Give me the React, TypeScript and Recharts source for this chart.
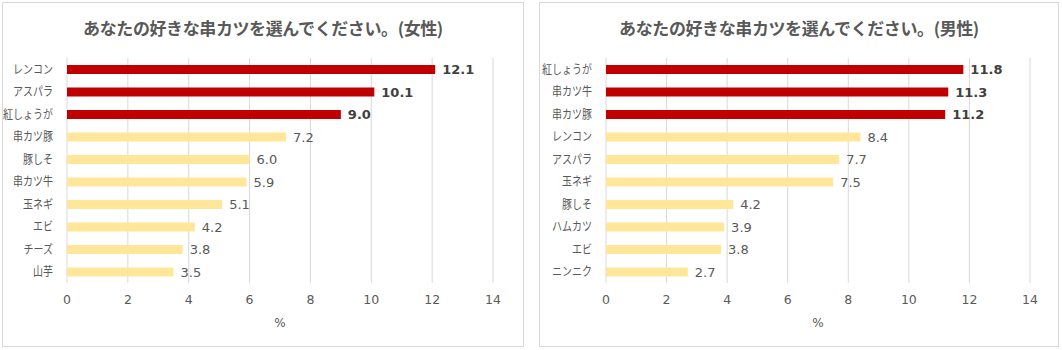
import React from "react";
import { BarChart, Bar, XAxis, YAxis, CartesianGrid, Cell, LabelList, Label } from "recharts";

const femaleCategories = ["レンコン", "アスパラ", "紅しょうが", "串カツ豚", "豚しそ", "串カツ牛", "玉ネギ", "エビ", "チーズ", "山芋"];
const femaleValues = [12.1, 10.1, 9.0, 7.2, 6.0, 5.9, 5.1, 4.2, 3.8, 3.5];
const maleCategories = ["紅しょうが", "串カツ牛", "串カツ豚", "レンコン", "アスパラ", "玉ネギ", "豚しそ", "ハムカツ", "エビ", "ニンニク"];
const maleValues = [11.8, 11.3, 11.2, 8.4, 7.7, 7.5, 4.2, 3.9, 3.8, 2.7];
const xTicks = [0, 2, 4, 6, 8, 10, 12, 14];
const femaleTitle = "あなたの好きな串カツを選んでください。(女性)";
const maleTitle = "あなたの好きな串カツを選んでください。(男性)";
const TOP_N = 3;

const FONT = "'DejaVu Sans', 'Noto Sans CJK JP', sans-serif";
const JP = "'Noto Sans CJK JP', sans-serif";
const RED = "#C00000";
const YELLOW = "#FFE699";
const GRAY = "#595959";

function makeRows(cats: string[], vals: number[]) {
  return cats.map((c, i) => ({ name: c, value: vals[i], top: i < TOP_N }));
}

const ValueLabel = (props: any) => {
  const { x, y, width, height, value, index } = props;
  const bold = index < TOP_N;
  return (
    <text
      x={x + width + 7}
      y={y + height / 2}
      dy="0.36em"
      fill={bold ? "#404040" : GRAY}
      fontSize={13}
      fontWeight={bold ? "bold" : "normal"}
      fontFamily={FONT}
    >
      {Number(value).toFixed(1)}
    </text>
  );
};

const CatTick = (props: any) => {
  const { x, y, payload } = props;
  return (
    <g transform={`translate(${x},${y}) scale(0.8,1)`}>
      <text x={0} y={0} dy="0.36em" textAnchor="end" fill={GRAY} fontSize={12.5} fontFamily={JP}>
        {payload.value}
      </text>
    </g>
  );
};

function Panel(props: { left: number; width: number; title: string; cats: string[]; vals: number[]; yWidth: number; rightMargin: number }) {
  const { left, width, title, cats, vals, yWidth, rightMargin } = props;
  const data = makeRows(cats, vals);
  return (
    <div
      style={{
        position: "absolute",
        left,
        top: 2,
        width,
        height: 345,
        border: "1px solid #D9D9D9",
        boxSizing: "border-box",
        background: "#fff",
      }}
    >
      <div
        style={{
          position: "absolute",
          left: 0,
          top: 13,
          width: "100%",
          textAlign: "center",
          fontFamily: JP,
          fontWeight: "bold",
          fontSize: 17,
          letterSpacing: "-0.4px",
          color: GRAY,
          lineHeight: "24px",
        }}
      >
        {title}
      </div>
      <div style={{ position: "absolute", left: -1, top: -1 }}>
        <BarChart
          width={width}
          height={345}
          data={data}
          layout="vertical"
          margin={{ top: 56, right: rightMargin, bottom: 16, left: 0 }}
          barCategoryGap={0}
        >
          <CartesianGrid horizontal={false} vertical={true} stroke="#D9D9D9" />
          <XAxis
            type="number"
            domain={[0, 14]}
            ticks={xTicks}
            axisLine={false}
            tickLine={false}
            tick={{ fill: GRAY, fontSize: 12.5, fontFamily: FONT }}
            tickMargin={6}
            height={48}
          >
            <Label value="%" position="insideBottom" offset={4} fill={GRAY} fontSize={12} fontFamily={FONT} />
          </XAxis>
          <YAxis
            type="category"
            dataKey="name"
            width={yWidth}
            axisLine={false}
            tickLine={false}
            tick={<CatTick />}
            tickMargin={8}
            interval={0}
          />
          <Bar dataKey="value" barSize={9} isAnimationActive={false}>
            {data.map((d, i) => (
              <Cell key={i} fill={d.top ? RED : YELLOW} />
            ))}
            <LabelList dataKey="value" content={<ValueLabel />} />
          </Bar>
        </BarChart>
      </div>
    </div>
  );
}

export default function App() {
  return (
    <div style={{ position: "absolute", left: 0, top: 0, width: 1062, height: 350, background: "#fff" }}>
      <Panel left={2} width={522} title={femaleTitle} cats={femaleCategories} vals={femaleValues} yWidth={65} rightMargin={31} />
      <Panel left={539} width={520} title={maleTitle} cats={maleCategories} vals={maleValues} yWidth={67} rightMargin={29} />
    </div>
  );
}
